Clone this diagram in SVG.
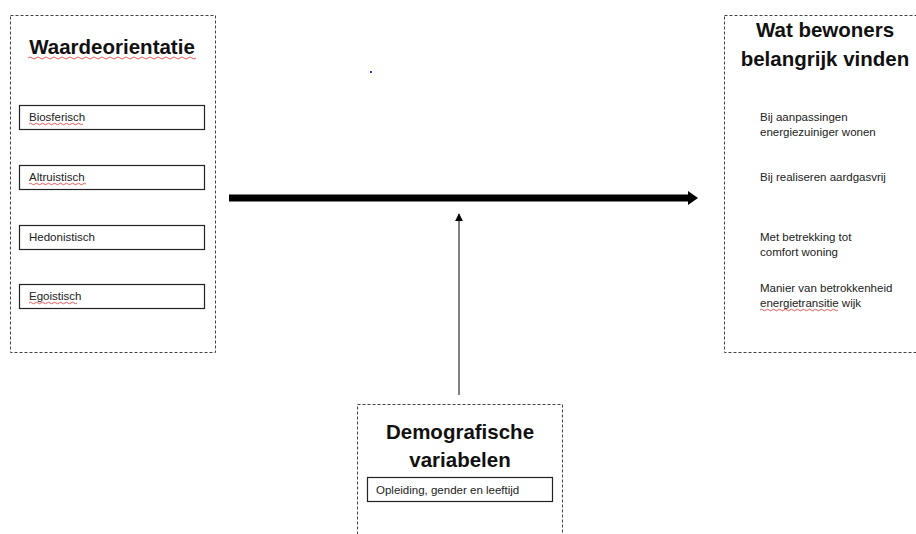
<svg xmlns="http://www.w3.org/2000/svg" width="916" height="534" viewBox="0 0 916 534">
<style>
.dash{fill:#fff;stroke:#444;stroke-width:1;stroke-dasharray:3,2}
.box{fill:#fff;stroke:#222;stroke-width:1.2}
.title{font-family:"Liberation Sans",Arial,sans-serif;font-weight:bold;font-size:20.5px;fill:#111;text-anchor:middle}
.t{font-family:"Liberation Sans",Arial,sans-serif;font-size:11.5px;fill:#222}
.sq{fill:none;stroke:#e03030;stroke-width:0.8}
</style>
<defs>
<marker id="ah" viewBox="0 0 10 10" refX="9" refY="5" markerWidth="8" markerHeight="10" markerUnits="userSpaceOnUse" orient="auto"><path d="M0,0 L10,5 L0,10 Z" fill="#000"/></marker>
</defs>
<rect width="916" height="534" fill="#fff"/>
<g id="connectors">
<line x1="229" y1="198" x2="689" y2="198" stroke="#000" stroke-width="7"/>
<path d="M688,191 L698,198 L688,205 Z" fill="#000"/>
<line x1="459" y1="395" x2="459" y2="214" stroke="#000" stroke-width="1" marker-end="url(#ah)"/>
</g>
<g id="waardeorientatie">
<rect class="dash" x="10.5" y="15.5" width="205" height="337"/>
<text class="title" x="112" y="54">Waardeorientatie</text>
<path class="sq" d="M28,58 q2,-2 4,0 t4,0 t4,0 t4,0 t4,0 t4,0 t4,0 t4,0 t4,0 t4,0 t4,0 t4,0 t4,0 t4,0 t4,0 t4,0 t4,0 t4,0 t4,0 t4,0 t4,0 t4,0 t4,0 t4,0 t4,0 t4,0 t4,0 t4,0 t4,0 t4,0 t4,0 t4,0 t4,0 t4,0 t4,0 t4,0 t4,0 t4,0 t4,0 t4,0 t4,0 t4,0"/>
</g>
<g id="biosferisch">
<rect class="box" x="19.5" y="105.5" width="185" height="24"/>
<text class="t" x="29" y="121">Biosferisch</text>
<path class="sq" d="M29,124 q1.5,-1.5 3,0 t3,0 t3,0 t3,0 t3,0 t3,0 t3,0 t3,0 t3,0 t3,0 t3,0 t3,0 t3,0 t3,0 t3,0 t3,0 t3,0 t3,0"/>
</g>
<g id="altruistisch">
<rect class="box" x="19.5" y="165.5" width="185" height="24"/>
<text class="t" x="29" y="181">Altruistisch</text>
<path class="sq" d="M29,184 q1.5,-1.5 3,0 t3,0 t3,0 t3,0 t3,0 t3,0 t3,0 t3,0 t3,0 t3,0 t3,0 t3,0 t3,0 t3,0 t3,0 t3,0 t3,0 t3,0 t3,0"/>
</g>
<g id="hedonistisch">
<rect class="box" x="19.5" y="225.5" width="185" height="24"/>
<text class="t" x="29" y="241">Hedonistisch</text>
</g>
<g id="egoistisch">
<rect class="box" x="19.5" y="284.5" width="185" height="24"/>
<text class="t" x="29" y="300">Egoistisch</text>
<path class="sq" d="M29,303 q1.5,-1.5 3,0 t3,0 t3,0 t3,0 t3,0 t3,0 t3,0 t3,0 t3,0 t3,0 t3,0 t3,0 t3,0 t3,0 t3,0 t3,0"/>
</g>
<g id="wat-bewoners">
<rect class="dash" x="724.5" y="15.5" width="200" height="337"/>
<text class="title" x="825" y="37">Wat bewoners</text>
<text class="title" x="825" y="66">belangrijk vinden</text>
<text class="t" x="760" y="121">Bij aanpassingen</text>
<text class="t" x="760" y="136">energiezuiniger wonen</text>
<text class="t" x="760" y="181">Bij realiseren aardgasvrij</text>
<text class="t" x="760" y="241">Met betrekking tot</text>
<text class="t" x="760" y="256">comfort woning</text>
<text class="t" x="760" y="292">Manier van betrokkenheid</text>
<text class="t" x="760" y="307">energietransitie wijk</text>
<path class="sq" d="M760,310 q1.5,-1.5 3,0 t3,0 t3,0 t3,0 t3,0 t3,0 t3,0 t3,0 t3,0 t3,0 t3,0 t3,0 t3,0 t3,0 t3,0 t3,0 t3,0 t3,0 t3,0 t3,0 t3,0 t3,0 t3,0 t3,0 t3,0 t3,0"/>
</g>
<g id="demografische">
<rect class="dash" x="357.5" y="404.5" width="205" height="140"/>
<text class="title" x="460" y="439">Demografische</text>
<text class="title" x="460" y="467">variabelen</text>
<rect class="box" x="367.5" y="477.5" width="185" height="24"/>
<text class="t" x="376" y="494">Opleiding, gender en leeftijd</text>
</g>
<rect x="370" y="71" width="2" height="2" fill="#3030ff"/>
</svg>
